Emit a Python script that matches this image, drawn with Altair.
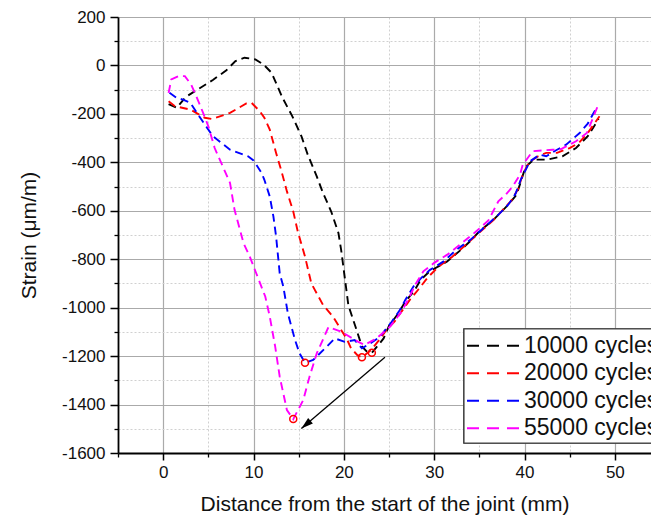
import altair as alt
import pandas as pd

series_names = ["10000 cycles", "20000 cycles", "30000 cycles", "55000 cycles"]
series_colors = ["#000000", "#ff0000", "#0000ff", "#ff00ff"]

x_10000 = [0.6, 1.5, 2.5, 4.0, 5.5, 7.0, 8.0, 9.0, 10.2, 11.1, 12.0, 13.2, 14.3, 15.3, 16.0, 17.0, 17.7,
           18.6, 19.4, 19.7, 20.5, 21.3, 22.0, 22.5, 23.1, 23.8, 24.4, 25.0, 26.0, 26.8, 27.8, 28.5,
           29.5, 31.4, 33.0, 34.0, 35.0, 36.5, 38.2, 39.1, 39.5, 40.1, 41.0, 42.5, 44.2, 45.7, 47.0,
           47.7, 48.2]
y_10000 = [-160, -175, -130, -95, -60, -20, 18, 32, 25, 4, -30, -133, -210, -292, -368, -458, -527,
           -603, -692, -761, -990, -1080, -1160, -1180, -1186, -1155, -1127, -1075, -1025, -975, -930, -885,
           -850, -810, -760, -725, -685, -640, -575, -535, -490, -420, -389, -389, -375, -341, -292,
           -251, -220]

x_20000 = [0.6, 1.3, 3.0, 4.6, 5.4, 7.4, 9.2, 9.8, 10.7, 11.2, 11.8, 12.5, 13.1, 13.7, 14.4, 14.9, 15.7,
           16.4, 17.7, 18.8, 19.7, 20.3, 20.8, 21.5, 22.0, 23.0, 24.0, 24.7, 25.6, 26.5, 27.3, 28.2,
           29.3, 30.5, 32.0, 33.5, 35.0, 36.5, 37.5, 38.5, 39.3, 39.8, 40.5, 41.5, 42.4, 43.6, 45.0,
           46.0, 47.0, 48.3]
y_20000 = [-148, -168, -182, -216, -221, -196, -157, -155, -189, -216, -265, -361, -437, -520, -603, -686, -789,
           -900, -989, -1037, -1092, -1127, -1168, -1196, -1205, -1175, -1130, -1092, -1058, -1010, -968, -927,
           -875, -830, -790, -740, -690, -640, -600, -560, -510, -450, -400, -375, -361, -361, -341,
           -320, -279, -210]

x_30000 = [0.7, 1.5, 2.2, 3.0, 4.1, 5.5, 7.4, 9.4, 10.0, 10.9, 11.2, 11.8, 12.2, 12.5, 12.9, 13.3, 13.8,
           14.6, 15.1, 15.7, 16.6, 18.1, 19.0, 20.1, 21.2, 22.0, 22.9, 24.0, 25.3, 26.2, 26.8, 27.7,
           28.5, 29.5, 31.0, 32.5, 34.0, 35.5, 37.0, 38.2, 39.0, 39.6, 40.6, 41.7, 42.4, 43.5, 44.6,
           46.1, 47.0, 47.9]
y_30000 = [-113, -134, -141, -154, -216, -292, -348, -375, -392, -444, -472, -541, -623, -706, -858, -913, -1023,
           -1134, -1189, -1227, -1216, -1161, -1127, -1141, -1134, -1168, -1148, -1120, -1058, -1010, -968, -913,
           -880, -845, -810, -760, -720, -670, -620, -575, -530, -470, -396, -368, -375, -350, -327,
           -279, -240, -180]

x_55000 = [0.6, 0.9, 1.7, 2.4, 3.1, 3.5, 4.2, 5.0, 5.7, 6.6, 7.4, 7.9, 8.9, 9.6, 10.3, 11.3, 11.8,
           12.4, 12.9, 13.7, 14.4, 15.5, 16.2, 17.0, 18.3, 19.7, 21.6, 22.3, 23.6, 25.1, 26.4, 27.2,
           28.0, 28.8, 30.0, 31.5, 33.0, 34.5, 36.0, 37.1, 38.0, 38.7, 39.5, 39.8, 40.9, 43.1, 43.9,
           45.7, 46.9, 48.1]
y_55000 = [-113, -58, -44, -44, -79, -113, -175, -251, -341, -417, -485, -596, -734, -790, -858, -954, -1037,
           -1161, -1285, -1423, -1460, -1382, -1285, -1189, -1080, -1099, -1141, -1154, -1127, -1079, -1016, -960,
           -899, -850, -815, -780, -735, -690, -640, -561, -530, -499, -451, -410, -354, -348, -348,
           -313, -279, -168]

marker_x = [14.4, 15.7, 22.0, 23.1]
marker_y = [-1460, -1227, -1205, -1186]

arrow_x = [24.55, 15.3]
arrow_y = [-1205, -1499]

x_major = [0, 10, 20, 30, 40, 50]
x_minor = [-5, 5, 15, 25, 35, 45]
y_major = [-1600, -1400, -1200, -1000, -800, -600, -400, -200, 0, 200]
y_minor = [-1500, -1300, -1100, -900, -700, -500, -300, -100, 100]

FONT = "Liberation Sans"

rows = []
for name, xs_, ys_ in zip(series_names, [x_10000, x_20000, x_30000, x_55000],
                          [y_10000, y_20000, y_30000, y_55000]):
    for i, (a, b) in enumerate(zip(xs_, ys_)):
        rows.append({"series": name, "x": a, "y": b, "i": i})
df = pd.DataFrame(rows)

markers = pd.DataFrame({"x": marker_x, "y": marker_y})
arrow_df = pd.DataFrame({"x1": [arrow_x[0]], "y1": [arrow_y[0]], "x2": [arrow_x[1]], "y2": [arrow_y[1]]})
tip_df = pd.DataFrame({"x": [arrow_x[1]], "y": [arrow_y[1]]})
legend_df = pd.DataFrame({"series": series_names, "k": list(range(len(series_names)))})

xs = alt.Scale(domain=[-5, 54], nice=False, zero=False)
ys = alt.Scale(domain=[-1600, 200], nice=False, zero=False)
cs = alt.Scale(domain=series_names, range=series_colors)
ls = alt.Scale(domain=[0, 3], range=[328.7, 411.3])

minor_x_axis = alt.Axis(values=x_minor, grid=True, gridColor="#d0d0d0", gridDash=[2, 2], gridWidth=1,
                        ticks=True, tickSize=4, tickColor="#000", tickWidth=1.3, labels=False,
                        domain=False, title=None, orient="bottom")
minor_y_axis = alt.Axis(values=y_minor, grid=True, gridColor="#d0d0d0", gridDash=[2, 2], gridWidth=1,
                        ticks=True, tickSize=4, tickColor="#000", tickWidth=1.3, labels=False,
                        domain=False, title=None, orient="left")
major_x_axis = alt.Axis(values=x_major, grid=True, gridColor="#aaaaaa", gridWidth=1.2,
                        ticks=True, tickSize=7, tickColor="#000", tickWidth=1.5,
                        domain=True, domainColor="#000", domainWidth=1.8,
                        labelFont=FONT, labelFontSize=17, labelColor="#111", labelPadding=4,
                        labelExpr="datum.value + ''",
                        title="Distance from the start of the joint (mm)", titleFont=FONT,
                        titleFontSize=21, titleFontWeight="normal", titleColor="#111", titlePadding=13,
                        orient="bottom")
major_y_axis = alt.Axis(values=y_major, grid=True, gridColor="#aaaaaa", gridWidth=1.2,
                        ticks=True, tickSize=8, tickColor="#000", tickWidth=1.5,
                        domain=True, domainColor="#000", domainWidth=1.8,
                        labelFont=FONT, labelFontSize=17, labelColor="#111", labelPadding=5,
                        labelExpr="datum.value + ''",
                        title="Strain (μm/m)", titleFont=FONT,
                        titleFontSize=21, titleFontWeight="normal", titleColor="#111", titlePadding=22,
                        orient="left")

grid_layer = alt.Chart(df).mark_point(opacity=0).encode(
    x=alt.X("x:Q", scale=xs, axis=minor_x_axis),
    y=alt.Y("y:Q", scale=ys, axis=minor_y_axis),
)

lines = alt.Chart(df).mark_line(strokeDash=[8, 5], strokeWidth=1.9).encode(
    x=alt.X("x:Q", scale=xs, axis=major_x_axis),
    y=alt.Y("y:Q", scale=ys, axis=major_y_axis),
    color=alt.Color("series:N", scale=cs, legend=None),
    order="i:Q",
)

circles = alt.Chart(markers).mark_point(shape="circle", filled=False, color="#ff0000", size=49,
                                        strokeWidth=1.5, opacity=1).encode(
    x=alt.X("x:Q", scale=xs, axis=None),
    y=alt.Y("y:Q", scale=ys, axis=None),
)

arrow_line = alt.Chart(arrow_df).mark_rule(color="#000", strokeWidth=1.3).encode(
    x=alt.X("x1:Q", scale=xs, axis=None),
    y=alt.Y("y1:Q", scale=ys, axis=None),
    x2="x2:Q",
    y2="y2:Q",
)

arrow_head = alt.Chart(tip_df).mark_point(shape="M0,0L-0.6,2L0.6,2Z", filled=True, color="#000",
                                          size=144, angle=229.5, opacity=1, strokeWidth=0).encode(
    x=alt.X("x:Q", scale=xs, axis=None),
    y=alt.Y("y:Q", scale=ys, axis=None),
)

legend_box = alt.Chart(legend_df).mark_rect(fill="white", stroke="#444444", strokeWidth=1.2).encode(
    x=alt.value(346), x2=alt.value(570), y=alt.value(312), y2=alt.value(426),
)

legend_lines = alt.Chart(legend_df).mark_rule(strokeDash=[12, 8], strokeWidth=2).encode(
    x=alt.value(349), x2=alt.value(401),
    y=alt.Y("k:Q", scale=ls, axis=None),
    color=alt.Color("series:N", scale=cs, legend=None),
)

legend_text = alt.Chart(legend_df).mark_text(align="left", baseline="middle", font=FONT,
                                             fontSize=23, color="#111").encode(
    x=alt.value(406),
    y=alt.Y("k:Q", scale=ls, axis=None),
    text="series:N",
)

chart = alt.layer(
    grid_layer, lines, circles, arrow_line, arrow_head, legend_box, legend_lines, legend_text
).resolve_scale(
    x="independent", y="independent"
).properties(
    width=533, height=436,
    padding={"left": 118, "top": 17, "right": 0, "bottom": 69},
    autosize=alt.AutoSizeParams(type="none"),
    background="white",
).configure_view(stroke=None)

chart.save("out.html", embed_options={"renderer": "svg", "actions": False})
